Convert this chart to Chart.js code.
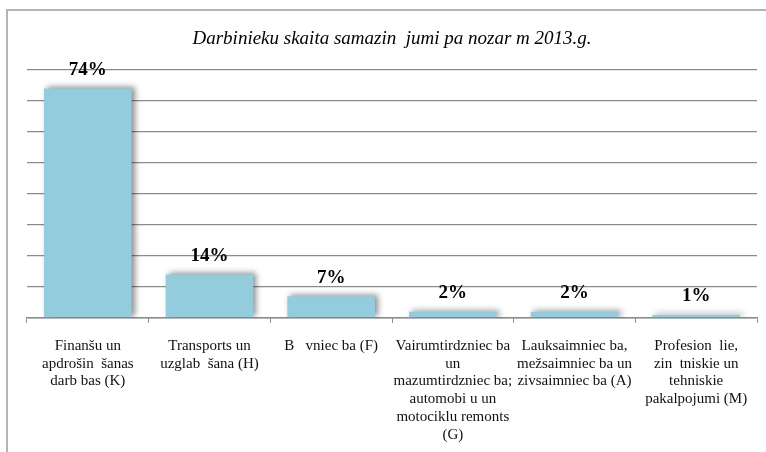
<!DOCTYPE html>
<html>
<head>
<meta charset="utf-8">
<script src="https://cdn.jsdelivr.net/npm/chart.js@4"></script>
<style>
    html, body { margin: 0; padding: 0; background: #fff; }
    #wrap { position: relative; width: 766px; height: 452px; overflow: hidden; }
    #frame {
        position: absolute; left: 6px; top: 9px; width: 800px; height: 500px;
        border-top: 2px solid #b4b4b4; border-left: 2px solid #b4b4b4;
    }
    canvas { position: absolute; left: 0; top: 0; }
</style>
</head>
<body>
<div id="wrap">
    <div id="frame"></div>
    <canvas id="chart" width="766" height="452"></canvas>
</div>
<script>
// Darbinieku skaita samazinājumi pa nozarēm 2013.g.

const TITLE = 'Darbinieku skaita samazin  jumi pa nozar m 2013.g.';

// category labels, one array entry per line
const categories = [
    ['Finanšu un', 'apdrošin  šanas', 'darb bas (K)'],
    ['Transports un', 'uzglab  šana (H)'],
    ['B   vniec ba (F)'],
    ['Vairumtirdzniec ba', 'un', 'mazumtirdzniec ba;', 'automobi u un', 'motociklu remonts', '(G)'],
    ['Lauksaimniec ba,', 'mežsaimniec ba un', 'zivsaimniec ba (A)'],
    ['Profesion  lie,', 'zin  tniskie un', 'tehniskie', 'pakalpojumi (M)']
];

const shares = [74, 14, 7, 2, 2, 1]; // percent
const yMax = 80;
const yStep = 10;

// soft drop shadow behind the bars
const barShadow = {
    id: 'barShadow',
    beforeDatasetsDraw(chart) {
        const ctx = chart.ctx;
        ctx.save();
        ctx.shadowColor = 'rgba(0, 0, 0, 0.45)';
        ctx.shadowBlur = 6;
        ctx.shadowOffsetX = 3;
        ctx.shadowOffsetY = -1;
    },
    afterDatasetsDraw(chart) {
        chart.ctx.restore();
    }
};

// percent labels above each bar
const valueLabels = {
    id: 'valueLabels',
    afterDatasetsDraw(chart) {
        const ctx = chart.ctx;
        const meta = chart.getDatasetMeta(0);
        ctx.save();
        ctx.font = 'bold 19px "Liberation Serif", serif';
        ctx.fillStyle = '#000';
        ctx.textAlign = 'center';
        ctx.textBaseline = 'bottom';
        meta.data.forEach((bar, i) => {
            ctx.fillText(shares[i] + '%', bar.x, bar.y - 9);
        });
        ctx.restore();
    }
};

const ctx = document.getElementById('chart').getContext('2d');
new Chart(ctx, {
    type: 'bar',
    data: {
        labels: categories,
        datasets: [{
            data: shares,
            backgroundColor: '#93cddd',
            borderWidth: 0,
            categoryPercentage: 1,
            barPercentage: 0.72,
        }]
    },
    options: {
        responsive: false,
        animation: false,
        layout: { padding: { left: 27, right: 9, top: 0, bottom: -6 } },
        scales: {
            x: {
                grid: {
                    drawOnChartArea: false,
                    drawTicks: true,
                    tickLength: 5,
                    color: '#8c8c8c',
                },
                border: { display: true, color: '#8c8c8c', width: 1.5 },
                ticks: {
                    autoSkip: false,
                    maxRotation: 0,
                    minRotation: 0,
                    padding: 14,
                    color: '#111',
                    font: { family: '"Liberation Serif", serif', size: 15, lineHeight: 1.19 },
                }
            },
            y: {
                min: 0,
                max: yMax,
                ticks: { display: false, stepSize: yStep },
                grid: { color: '#8c8c8c', lineWidth: 1.2, drawTicks: false },
                border: { display: false },
            }
        },
        plugins: {
            legend: { display: false },
            tooltip: { enabled: false },
            title: {
                display: true,
                text: TITLE,
                color: '#000',
                font: { family: '"Liberation Serif", serif', size: 19, style: 'italic', weight: 'normal' },
                padding: { top: 28, bottom: 19 },
            }
        }
    },
    plugins: [barShadow, valueLabels]
});
</script>
</body>
</html>
